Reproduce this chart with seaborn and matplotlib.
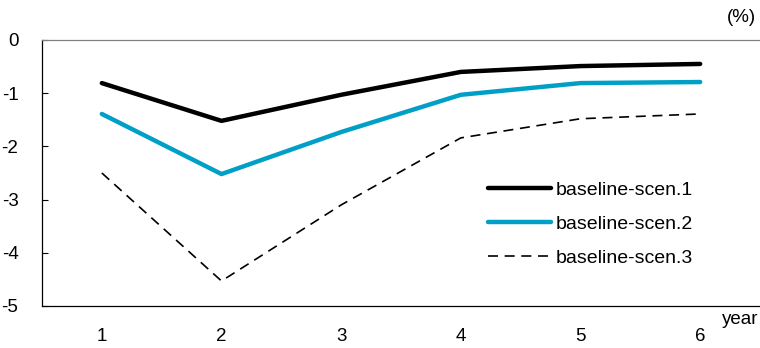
import matplotlib
matplotlib.use("Agg")
import matplotlib.pyplot as plt
import seaborn as sns
import pandas as pd

years = [1, 2, 3, 4, 5, 6]
scen1 = [-0.81, -1.52, -1.03, -0.60, -0.49, -0.45]
scen2 = [-1.39, -2.52, -1.73, -1.03, -0.81, -0.79]
scen3 = [-2.50, -4.53, -3.10, -1.84, -1.48, -1.39]
labels = ["baseline-scen.1", "baseline-scen.2", "baseline-scen.3"]

sns.set_theme(style="white")
plt.rcParams['font.family'] = ['Liberation Sans', 'DejaVu Sans']
plt.rcParams['text.color'] = '#000000'
plt.rcParams['xtick.color'] = '#000000'
plt.rcParams['ytick.color'] = '#000000'

df = pd.DataFrame({"year": years * 3,
                   "value": scen1 + scen2 + scen3,
                   "series": [labels[0]] * 6 + [labels[1]] * 6 + [labels[2]] * 6})

fig = plt.figure(figsize=(7.6, 3.48), dpi=100)
ax = fig.add_axes([42 / 760, 42 / 348, 1 - 42 / 760, (306 - 40) / 348])

palette = {labels[0]: "#000000", labels[1]: "#00A0C6", labels[2]: "#000000"}
widths = {labels[0]: 3.2, labels[1]: 3.2, labels[2]: 1.2}
styles = {labels[0]: "-", labels[1]: "-", labels[2]: (0, (6, 4))}
for lab in labels:
    sub = df[df.series == lab]
    sns.lineplot(data=sub, x="year", y="value", ax=ax, color=palette[lab],
                 linewidth=widths[lab], linestyle=styles[lab], label=lab,
                 solid_capstyle="round")

ax.set_xlim(0.5, 6.5)
ax.set_ylim(-5, 0)
ax.set_xticks(years)
ax.set_yticks([0, -1, -2, -3, -4, -5])
ax.set_yticklabels(["0", "-1", "-2", "-3", "-4", "-5"])
ax.tick_params(axis="y", direction="in", length=4, width=0.8, labelsize=13.5,
               pad=17, left=True, colors="#000000")
ax.tick_params(axis="x", length=0, labelsize=13.5, pad=16, colors="#000000")
ax.set_xlabel("")
ax.set_ylabel("")
for s in ["left", "top", "bottom"]:
    ax.spines[s].set_visible(True)
    ax.spines[s].set_color("#000000")
    ax.spines[s].set_linewidth(0.9)
ax.spines["top"].set_color("#808080")
ax.spines["right"].set_visible(False)
ax.grid(False)

fig.text(741 / 760, 1 - 17 / 348, "(%)", ha="center", va="center", fontsize=13.5)
fig.text(740 / 760, 1 - 320 / 348, "year", ha="center", va="center", fontsize=13.5)

leg = ax.legend(loc="upper left", bbox_to_anchor=(0.597, 0.535), frameon=False,
                fontsize=14, handlelength=3.25, handletextpad=0.2, labelspacing=0.85)

fig.savefig("out.png", dpi=100)
